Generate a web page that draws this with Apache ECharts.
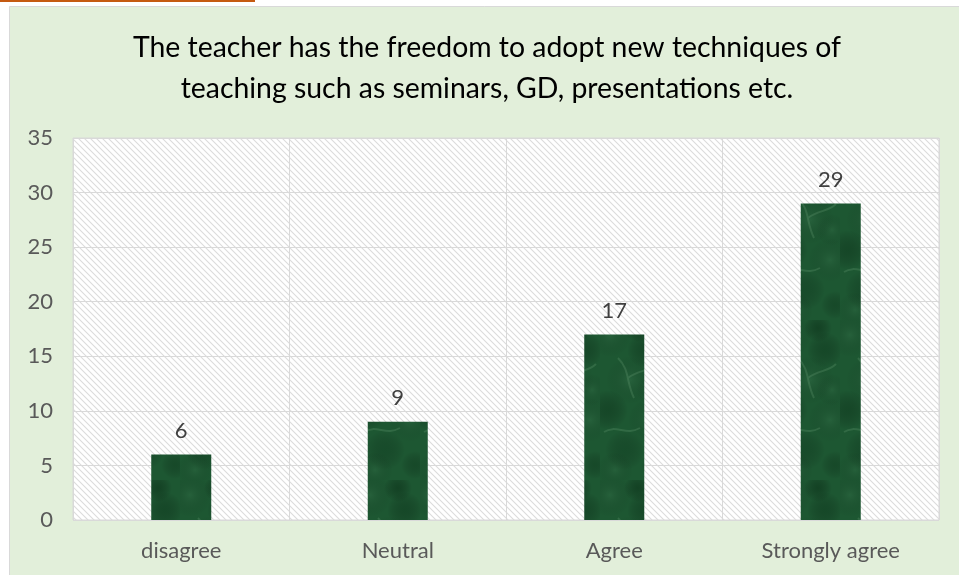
<!DOCTYPE html>
<html>
<head>
<meta charset="utf-8">
<script src="https://cdn.jsdelivr.net/npm/echarts@6/dist/echarts.min.js"></script>
<style>
  html, body { margin: 0; padding: 0; background: #ffffff; }
  #chart { width: 959px; height: 575px; }
</style>
</head>
<body>
<div id="chart"></div>
<script>
const categories = ["disagree", "Neutral", "Agree", "Strongly agree"];
const responses = [6, 9, 17, 29];
const yTicks = [0, 5, 10, 15, 20, 25, 30, 35];

const titleLines = [
    "The teacher has the freedom to adopt new techniques of",
    "teaching such as seminars, GD, presentations etc."
];

// diagonal hatch for the plot background
function makeHatch() {
    const c = document.createElement("canvas");
    c.width = 6; c.height = 6;
    const ctx = c.getContext("2d");
    ctx.fillStyle = "#ffffff";
    ctx.fillRect(0, 0, 6, 6);
    ctx.strokeStyle = "#dcdcdc";
    ctx.lineWidth = 1.1;
    ctx.beginPath();
    ctx.moveTo(-1, -1); ctx.lineTo(7, 7);
    ctx.moveTo(-4, 2); ctx.lineTo(4, 10);
    ctx.moveTo(2, -4); ctx.lineTo(10, 4);
    ctx.stroke();
    return c;
}

// dark green marble-ish fill for bars
function makeMarble() {
    const w = 60, h = 160;
    const c = document.createElement("canvas");
    c.width = w; c.height = h;
    const ctx = c.getContext("2d");
    ctx.fillStyle = "#1d5732";
    ctx.fillRect(0, 0, w, h);
    const blobs = [
        [10, 15, 22, "rgba(70,130,90,0.22)"], [45, 30, 18, "rgba(8,45,22,0.35)"],
        [30, 60, 24, "rgba(80,140,100,0.2)"], [8, 90, 20, "rgba(8,42,20,0.35)"],
        [50, 100, 22, "rgba(75,135,95,0.2)"], [25, 130, 20, "rgba(10,50,26,0.3)"],
        [38, 8, 14, "rgba(5,35,15,0.4)"], [52, 70, 16, "rgba(70,130,90,0.2)"],
        [15, 150, 18, "rgba(70,130,90,0.2)"], [55, 145, 14, "rgba(8,42,20,0.3)"]
    ];
    blobs.forEach(([x, y, r, col]) => {
        const g = ctx.createRadialGradient(x, y, 0, x, y, r);
        g.addColorStop(0, col);
        g.addColorStop(1, "rgba(0,0,0,0)");
        ctx.fillStyle = g;
        ctx.fillRect(0, 0, w, h);
    });
    ctx.strokeStyle = "rgba(110,165,125,0.25)";
    ctx.lineWidth = 2;
    ctx.beginPath();
    ctx.moveTo(18, 38); ctx.bezierCurveTo(30, 50, 26, 62, 34, 78);
    ctx.moveTo(28, 58); ctx.bezierCurveTo(38, 50, 48, 52, 56, 44);
    ctx.moveTo(4, 112); ctx.bezierCurveTo(16, 104, 26, 116, 40, 108);
    ctx.stroke();
    return c;
}

const chart = echarts.init(document.getElementById("chart"));
chart.setOption({
    animation: false,
    backgroundColor: "#ffffff",
    graphic: [
        { type: "rect", shape: { x: 9.5, y: 6.5, width: 960, height: 580 },
          style: { fill: "#e2efda", stroke: "#d9d9d9", lineWidth: 1 }, z: -10 },
        { type: "rect", shape: { x: 0, y: 0, width: 255, height: 2 },
          style: { fill: "#c55a11" }, z: -10 }
    ],
    title: {
        text: titleLines.join("\n"),
        left: 482, top: 22, textAlign: "center",
        textStyle: { fontFamily: "Lato", fontSize: 28.4, fontWeight: "normal", color: "#000000", lineHeight: 41 }
    },
    grid: {
        left: 73, right: 20, top: 138, bottom: 55,
        show: true,
        backgroundColor: { image: makeHatch(), repeat: "repeat" },
        borderColor: "#d9d9d9", borderWidth: 1
    },
    xAxis: {
        type: "category",
        data: categories,
        axisLine: { show: false },
        axisTick: { show: false },
        splitLine: { show: true, lineStyle: { color: "#d9d9d9", width: 1 } },
        axisLabel: { color: "#595959", fontSize: 22, fontFamily: "Lato", margin: 20 }
    },
    yAxis: {
        type: "value",
        min: yTicks[0], max: yTicks[yTicks.length - 1], interval: 5,
        axisLine: { show: false },
        axisTick: { show: false },
        splitLine: { lineStyle: { color: "#d9d9d9", width: 1 } },
        axisLabel: { color: "#595959", fontSize: 22, fontFamily: "Lato", margin: 20 }
    },
    series: [{
        type: "bar",
        data: responses,
        barWidth: 60,
        itemStyle: { color: { image: makeMarble(), repeat: "repeat" } },
        label: { show: true, position: "top", distance: 13, color: "#404040", fontSize: 22, fontFamily: "Lato" }
    }]
});
</script>
</body>
</html>
